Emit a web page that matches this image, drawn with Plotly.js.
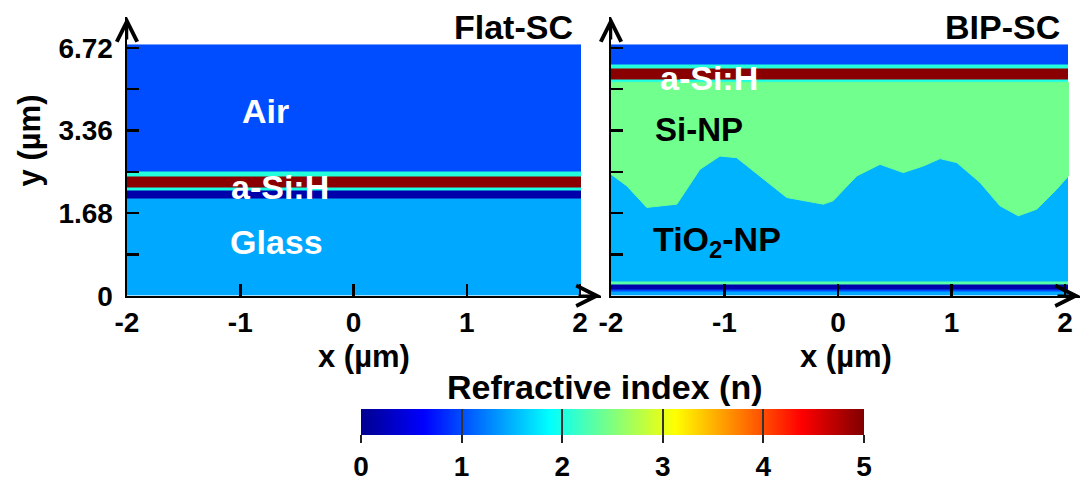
<!DOCTYPE html>
<html><head><meta charset="utf-8">
<script src="https://cdn.plot.ly/plotly-3.0.1.min.js"></script>
<style>html,body{margin:0;padding:0;background:#fff;} #chart{width:1083px;height:483px;}</style>
</head><body><div id="chart"></div>
<script>
// ---------- data ----------
// Flat-SC layer stack, bottom to top (y in axis units; ticks 0,1,2,3 = 0,1.68,3.36,6.72 µm)
const flatLayers = ['Glass', 'Metal', 'ITO', 'a-Si:H', 'ITO', 'Air'];
const flatBounds = [0, 1.177, 1.269, 1.31, 1.44, 1.498, 3.04];
const flatIndex  = [1.45, 0.15, 2.0, 4.95, 2.05, 1.0];
const flatXEdges = [-2, 2.01];

// BIP-SC layer stack, bottom to top
const bipLayers = ['Glass', 'Low-n', 'Metal', 'ITO', 'TiO2-NP', 'ITO', 'a-Si:H', 'ITO', 'Air'];
const bipBounds = [0, 0.048, 0.072, 0.139, 0.175, 2.582, 2.614, 2.749, 2.795, 3.04];
const bipIndex  = [1.45, 1.0, 0.15, 2.3, 1.5, 2.0, 4.95, 2.05, 1.0];
const bipXEdges = [-2, 2.03];

// TiO2-NP / Si-NP rough interface
const interfaceX = [-2.0, -1.98, -1.86, -1.685, -1.42, -1.216, -1.04, -0.893, -0.687, -0.452, -0.13, -0.044,
                    0.165, 0.37, 0.575, 0.752, 0.899, 1.046, 1.251, 1.427, 1.589, 1.751, 1.927, 2.03];
const interfaceY = [1.47, 1.449, 1.329, 1.069, 1.108, 1.53, 1.69, 1.671, 1.449, 1.189, 1.108, 1.148,
                    1.449, 1.59, 1.49, 1.57, 1.659, 1.611, 1.37, 1.088, 0.967, 1.048, 1.289, 1.449];
const siNpTop = 2.582;
const siNpIndex = 2.43;

const xTickVals = [-2, -1, 0, 1, 2];
const xTickText = ['-2', '-1', '0', '1', '2'];
const yTickVals = [0, 0.5, 1, 1.5, 2, 2.5, 3];
const yTickText = ['0', '', '1.68', '', '3.36', '', '6.72'];
const cbTickVals = [0, 1, 2, 3, 4, 5];
const nMin = 0, nMax = 5;

// ---------- style ----------
const jet = [[0, 'rgb(0,0,143)'], [0.125, 'rgb(0,0,255)'], [0.375, 'rgb(0,255,255)'],
             [0.625, 'rgb(255,255,0)'], [0.875, 'rgb(255,0,0)'], [1, 'rgb(128,0,0)']];
function jetColor(v) {
  const t = Math.max(0, Math.min(1, (v - nMin) / (nMax - nMin)));
  for (let i = 1; i < jet.length; i++) {
    if (t <= jet[i][0]) {
      const a = jet[i - 1], b = jet[i];
      const f = (t - a[0]) / (b[0] - a[0]);
      const ca = a[1].match(/\d+/g).map(Number), cb = b[1].match(/\d+/g).map(Number);
      return 'rgb(' + ca.map((c, k) => Math.round(c + (cb[k] - c) * f)).join(',') + ')';
    }
  }
  return jet[jet.length - 1][1];
}
const FONT = 'Liberation Sans, Arial, Helvetica, sans-serif';
const W = 1083, H = 483;
const px = v => v / W, py = v => 1 - v / H;

const cbCommon = {
  orientation: 'h', x: px(612.5), xanchor: 'center', y: py(411), yanchor: 'top',
  len: 503, lenmode: 'pixels', thickness: 26, thicknessmode: 'pixels',
  xpad: 0, ypad: 0, outlinewidth: 0, tickvals: cbTickVals, tickmode: 'array'
};

const traces = [
  {
    type: 'heatmap', x: flatXEdges, y: flatBounds, z: flatIndex.map(v => [v]),
    text: flatLayers.map(v => [v]), hoverinfo: 'text+z',
    xaxis: 'x', yaxis: 'y', zmin: nMin, zmax: nMax, colorscale: jet, showscale: true,
    colorbar: Object.assign({}, cbCommon, {
      ticks: 'outside', ticklen: 8, tickwidth: 2, tickcolor: '#222',
      tickfont: {family: FONT, size: 28, color: '#000', weight: 'bold'}
    })
  },
  {
    type: 'heatmap', x: bipXEdges, y: bipBounds, z: bipIndex.map(v => [v]),
    text: bipLayers.map(v => [v]), hoverinfo: 'text+z',
    xaxis: 'x2', yaxis: 'y2', zmin: nMin, zmax: nMax, colorscale: jet, showscale: true,
    colorbar: Object.assign({}, cbCommon, {
      ticks: 'inside', ticklen: 26, tickwidth: 2, tickcolor: '#333', showticklabels: false
    })
  },
  {
    type: 'scatter', mode: 'lines', xaxis: 'x2', yaxis: 'y2',
    x: interfaceX.concat([interfaceX[interfaceX.length - 1], interfaceX[0]]),
    y: interfaceY.concat([siNpTop, siNpTop]),
    fill: 'toself', fillcolor: jetColor(siNpIndex),
    line: {color: jetColor(siNpIndex), width: 1}, hoverinfo: 'skip', showlegend: false
  }
];

const xaxisCommon = {
  showline: true, linecolor: '#000', linewidth: 2.5, mirror: false,
  ticks: 'inside', ticklen: 12, tickwidth: 2.5, tickcolor: '#000',
  tickvals: xTickVals, ticktext: xTickText, tickmode: 'array',
  tickfont: {family: FONT, size: 28, color: '#000', weight: 'bold'},
  ticklabelstandoff: 0,
  showgrid: false, zeroline: false, fixedrange: true
};
const yaxisCommon = {
  showline: true, linecolor: '#000', linewidth: 2.5,
  ticks: 'inside', ticklen: 12, tickwidth: 2.5, tickcolor: '#000',
  tickvals: yTickVals, ticktext: yTickText, tickmode: 'array',
  tickfont: {family: FONT, size: 28, color: '#000', weight: 'bold'},
  ticklabelstandoff: 6,
  showgrid: false, zeroline: false, fixedrange: true,
  range: [0, 3.373], domain: [py(297), py(17)]
};

const xL = [px(127), px(601)], xR = [px(611), px(1080)];
const lab = (text, x, y, xref, yref, size, color, opts) => Object.assign({
  text: text, x: x, y: y, xref: xref, yref: yref, showarrow: false,
  xanchor: 'center', yanchor: 'middle',
  font: {family: FONT, size: size, color: color}
}, opts || {});
const arrow = (x, y, xref, yref, ax, ay) => ({
  x: x, y: y, xref: xref, yref: yref, ax: ax, ay: ay, text: '', showarrow: true,
  arrowhead: 5, arrowsize: 1.6, arrowwidth: 2.5, arrowcolor: '#000', standoff: 0
});

const layout = {
  width: W, height: H, margin: {l: 0, r: 0, t: 0, b: 0},
  paper_bgcolor: '#fff', plot_bgcolor: 'rgba(0,0,0,0)', showlegend: false,
  xaxis: Object.assign({}, xaxisCommon, {domain: xL, range: [-2, 2.185], anchor: 'y'}),
  yaxis: Object.assign({}, yaxisCommon, {anchor: 'x'}),
  xaxis2: Object.assign({}, xaxisCommon, {domain: xR, range: [-2, 2.132], anchor: 'y2'}),
  yaxis2: Object.assign({}, yaxisCommon, {anchor: 'x2', showticklabels: false}),
  annotations: [
    lab('<b>Air</b>', -0.773, 2.23, 'x', 'y', 34, '#fff'),
    lab('<b>a-Si:H</b>', -0.649, 1.313, 'x', 'y', 34, '#fff'),
    lab('<b>Glass</b>', -0.684, 0.651, 'x', 'y', 34, '#fff'),
    lab('<b>Flat-SC</b>', 1.956, 3.253, 'x', 'y', 34, '#000', {xanchor: 'right'}),
    lab('<b>a-Si:H</b>', -1.137, 2.639, 'x2', 'y2', 34, '#fff'),
    lab('<b>Si-NP</b>', -1.225, 2.012, 'x2', 'y2', 33, '#000'),
    lab('<b>TiO<sub>2</sub>-NP</b>', -1.066, 0.66, 'x2', 'y2', 34, '#000'),
    lab('<b>BIP-SC</b>', 1.974, 3.253, 'x2', 'y2', 34, '#000', {xanchor: 'right'}),
    lab('<b>x (µm)</b>', (xL[0] + xL[1]) / 2, py(358), 'paper', 'paper', 31, '#000'),
    lab('<b>x (µm)</b>', (xR[0] + xR[1]) / 2, py(358), 'paper', 'paper', 31, '#000'),
    lab('<b>y (µm)</b>', px(29), py(141), 'paper', 'paper', 31, '#000', {textangle: -90}),
    lab('<b>Refractive index (n)</b>', px(605), py(389), 'paper', 'paper', 34, '#000'),
    arrow(2.185, 0, 'x', 'y', -24, 0),
    arrow(-2, 3.373, 'x', 'y', 0, 24),
    arrow(2.132, 0, 'x2', 'y2', -24, 0),
    arrow(-2, 3.373, 'x2', 'y2', 0, 24)
  ]
};

Plotly.newPlot('chart', traces, layout, {displayModeBar: false, staticPlot: true});
</script>
</body></html>
